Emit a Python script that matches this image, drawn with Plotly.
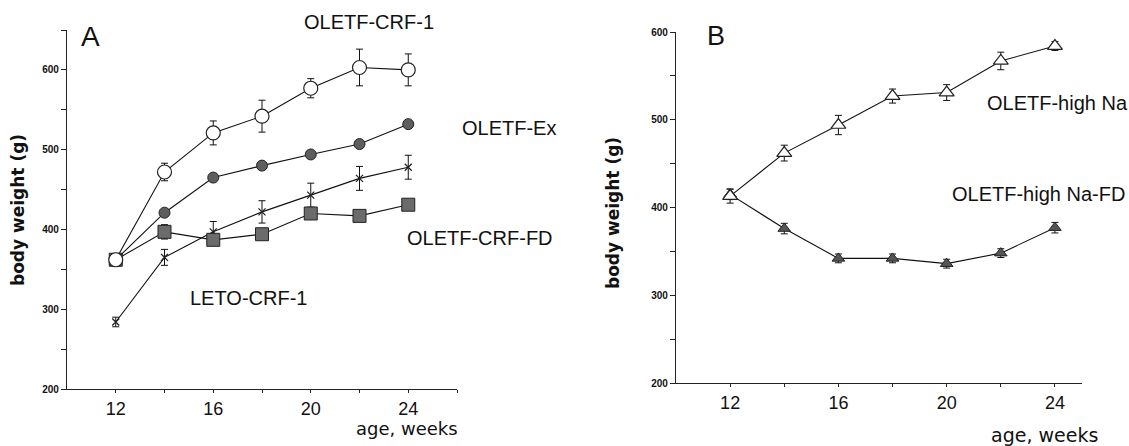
import plotly.graph_objects as go

W, H = 1129, 446

# ---------------- data ----------------
weeks = [12, 14, 16, 18, 20, 22, 24]

# Panel A
crf1 = [362, 472, 521, 542, 577, 603, 600]
crf1_err = [4, 11, 15, 20, 12, 23, 20]
ex = [362, 421, 465, 480, 494, 507, 532]
ex_err = [3, 3, 3, 3, 3, 3, 3]
leto = [284, 365, 397, 422, 443, 464, 478]
leto_err = [6, 10, 13, 14, 15, 15, 15]
crf_fd = [362, 397, 387, 394, 420, 417, 431]
crf_fd_err = [4, 9, 4, 4, 4, 4, 6]

# Panel B
hna = [413, 462, 494, 527, 531, 567, 584]
hna_err = [8, 9, 11, 8, 9, 10, 5]
hna_fd = [415, 376, 342, 342, 336, 348, 377]
hna_fd_err = [6, 6, 5, 5, 5, 5, 6]

xtick_vals_a = [12, 14, 16, 18, 20, 22, 24, 26]
xtick_text_a = ["12", "", "16", "", "20", "", "24", ""]
xtick_vals_b = [12, 14, 16, 18, 20, 22, 24]
xtick_text_b = ["12", "", "16", "", "20", "", "24"]
ytick_vals_a = [200, 250, 300, 350, 400, 450, 500, 550, 600, 650]
ytick_text_a = ["200", "", "300", "", "400", "", "500", "", "600", ""]
ytick_vals_b = [200, 250, 300, 350, 400, 450, 500, 550, 600]
ytick_text_b = ["200", "", "300", "", "400", "", "500", "", "600"]

# ---------------- figure ----------------
fig = go.Figure()

def px_x(p):
    return p / W

def px_y(p):
    return 1 - p / H

def err(vals):
    return dict(type="data", array=vals, visible=True, color="#111",
                thickness=1, width=3.5)

line = dict(color="#111", width=1.1)

def add(x, y, e, sym, size, fill, xa, ya, lw=1.2):
    fig.add_trace(go.Scatter(
        x=x, y=y, mode="lines+markers", xaxis=xa, yaxis=ya,
        line=line, error_y=err(e),
        marker=dict(symbol=sym, size=size, color=fill,
                    line=dict(color="#222", width=lw)),
        showlegend=False, hoverinfo="skip"))

# Panel A
add(weeks, leto, leto_err, "x-thin", 7, "#111", "x", "y", lw=1.3)
add(weeks, crf_fd, crf_fd_err, "square", 13, "#6b6b6b", "x", "y", lw=1)
add(weeks, ex, ex_err, "circle", 11, "#5e5e5e", "x", "y", lw=1)
add(weeks, crf1, crf1_err, "circle", 14, "white", "x", "y", lw=1.2)

# Panel B
add(weeks, hna_fd, hna_fd_err, "triangle-up", 11, "#555555", "x2", "y2", lw=1)
add(weeks, hna, hna_err, "triangle-up", 13, "white", "x2", "y2", lw=1.2)

axis_common = dict(showline=True, linecolor="#222", linewidth=1.3,
                   showgrid=False, zeroline=False, ticks="outside",
                   tickcolor="#222", tickwidth=1.2, automargin=False)

xfont = dict(family="Liberation Sans", size=18, color="#111")
yfont = dict(family="Liberation Sans", size=10, color="#111", weight="bold")

fig.update_layout(
    width=W, height=H,
    margin=dict(l=0, r=0, t=0, b=0, autoexpand=False),
    paper_bgcolor="white", plot_bgcolor="white",
    xaxis=dict(domain=[px_x(67), px_x(457)], range=[10, 26],
               tickvals=xtick_vals_a, ticktext=xtick_text_a,
               tickfont=xfont, anchor="y", ticklen=3, **axis_common),
    yaxis=dict(domain=[px_y(389), px_y(30)], range=[200, 650],
               tickvals=ytick_vals_a, ticktext=ytick_text_a,
               tickfont=yfont, anchor="x", ticklen=5, **axis_common),
    xaxis2=dict(domain=[px_x(676), px_x(1082)], range=[10, 25],
                tickvals=xtick_vals_b, ticktext=xtick_text_b,
                tickfont=xfont, anchor="y2", ticklen=3, **axis_common),
    yaxis2=dict(domain=[px_y(383), px_y(32)], range=[200, 600],
                tickvals=ytick_vals_b, ticktext=ytick_text_b,
                tickfont=yfont, anchor="x2", ticklen=5, **axis_common),
)

def note(text, x, y, size=20, xanchor="left", angle=0, bold=False,
         family="Liberation Sans"):
    fig.add_annotation(
        text=text, x=px_x(x), y=px_y(y), xref="paper", yref="paper",
        xanchor=xanchor, yanchor="middle", showarrow=False, textangle=angle,
        font=dict(family=family, size=size, color="#111",
                  weight="bold" if bold else "normal"))

# panel letters
note("A", 79, 36, size=28)
note("B", 705, 36, size=27)

# series labels
note("OLETF-CRF-1", 302, 22)
note("OLETF-Ex", 460, 128)
note("OLETF-CRF-FD", 405, 238)
note("LETO-CRF-1", 188, 298)
note("OLETF-high Na", 985, 103)
note("OLETF-high Na-FD", 950, 194)

# axis titles
note("body weight (g)", 18, 210, size=17, xanchor="center", angle=-90,
     bold=True, family="DejaVu Sans")
note("body weight (g)", 613, 213, size=17, xanchor="center", angle=-90,
     bold=True, family="DejaVu Sans")
note("age, weeks", 460, 428, size=18, xanchor="right", family="DejaVu Sans")
note("age, weeks", 1100, 435, size=19, xanchor="right", family="DejaVu Sans")

fig.write_html("out.html", config={"displayModeBar": False},
               post_script="document.body.style.margin='0';")
